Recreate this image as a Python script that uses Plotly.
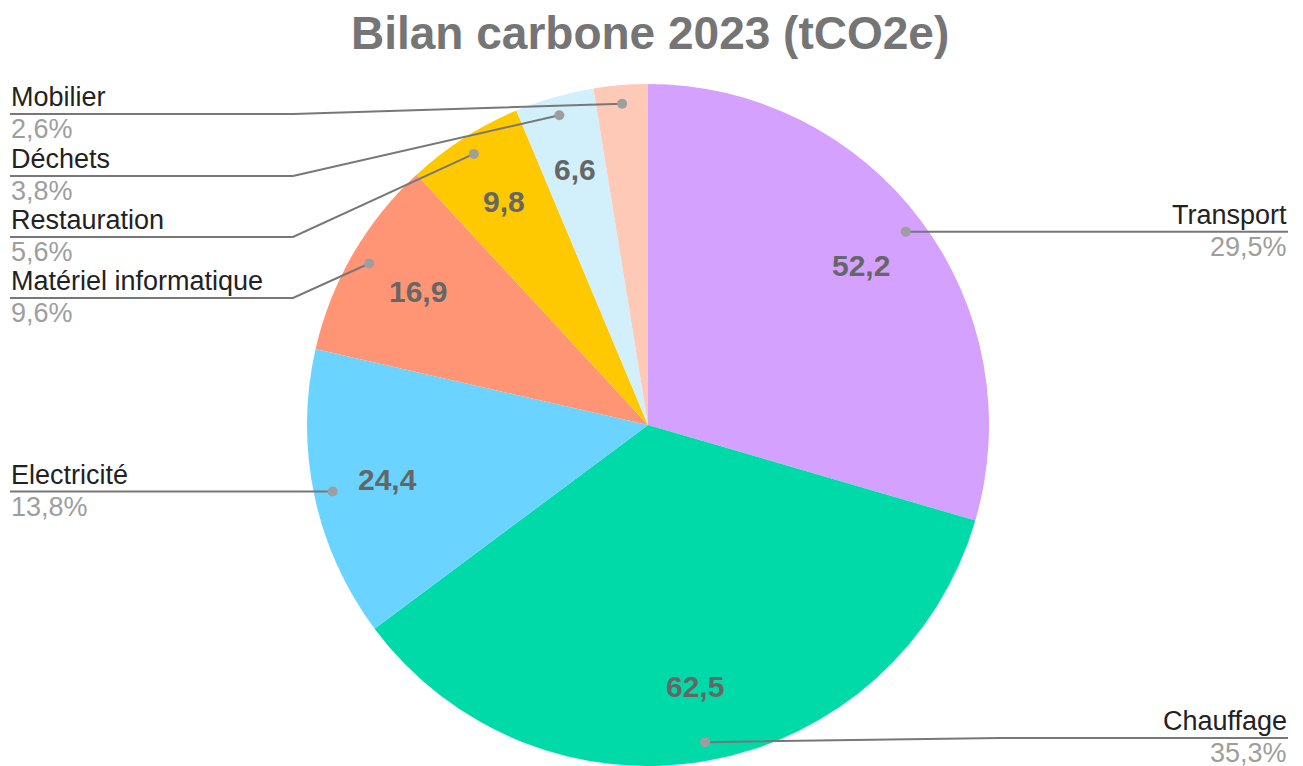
import math
import plotly.graph_objects as go

# ---- data ----
categories = ["Transport", "Chauffage", "Electricité", "Matériel informatique",
              "Restauration", "Déchets", "Mobilier"]
values = [52.24, 62.46, 24.36, 16.92, 9.83, 6.64, 4.53]
colors = ["#D4A1FE", "#00DAA9", "#6AD3FF", "#FF9575", "#FFC902", "#D2F0FC", "#FFC9B8"]
show_value = [True, True, True, True, True, True, False]
title_text = "Bilan carbone 2023 (tCO2e)"

# ---- layout constants (pixels) ----
W, H = 1303, 766
CX, R = 648, 341
TOP = 84
CY = TOP + R
label_side = ["right", "right", "left", "left", "left", "left", "left"]
label_line_y = [None, 738, None, 298, 237, 176, 114]  # None -> same as dot
LEFT_X, LEFT_KINK = 10, 293
RIGHT_X, RIGHT_KINK = 1288, 1000
FONT = "Arial, Liberation Sans, sans-serif"


def px(x):
    return x / W


def py(y):
    return 1 - y / H


def fmt(v, d=1):
    return f"{v:.{d}f}".replace(".", ",")


total = sum(values)
fig = go.Figure()
fig.add_trace(go.Pie(
    labels=categories, values=values, sort=False, direction="clockwise",
    rotation=0, marker=dict(colors=colors, line=dict(width=0)),
    textinfo="none", hoverinfo="label+value+percent", showlegend=False,
    domain=dict(x=[px(CX - R), px(CX + R)], y=[max(0, py(TOP + 2 * R)), py(TOP)]),
))

shapes, annotations = [], []
cum = 0.0
for i, (cat, v) in enumerate(zip(categories, values)):
    mid = (cum + v / 2) / total * 2 * math.pi
    cum += v
    sx, sy = math.sin(mid), -math.cos(mid)
    if show_value[i]:
        annotations.append(dict(
            x=px(CX + 0.78 * R * sx), y=py(CY + 0.78 * R * sy), xref="paper", yref="paper",
            text=f"<b>{fmt(v)}</b>", showarrow=False, xanchor="center", yanchor="middle",
            font=dict(family=FONT, size=30, color="#666666")))
    dx, dy = CX + 0.945 * R * sx, CY + 0.945 * R * sy
    ly = label_line_y[i] if label_line_y[i] is not None else dy
    if label_side[i] == "left":
        path = f"M {px(LEFT_X)},{py(ly)} L {px(LEFT_KINK)},{py(ly)} L {px(dx)},{py(dy)}"
        tx, anchor = LEFT_X, "left"
    else:
        path = f"M {px(RIGHT_X)},{py(ly)} L {px(RIGHT_KINK)},{py(ly)} L {px(dx)},{py(dy)}"
        tx, anchor = RIGHT_X, "right"
    shapes.append(dict(type="path", path=path, xref="paper", yref="paper", layer="above",
                       line=dict(color="#777777", width=2)))
    rr = 5
    shapes.append(dict(type="circle", xref="paper", yref="paper", layer="above",
                       x0=px(dx - rr), x1=px(dx + rr), y0=py(dy + rr), y1=py(dy - rr),
                       fillcolor="#9E9E9E", line=dict(width=0)))
    annotations.append(dict(
        x=px(tx), y=py(ly - 1), xref="paper", yref="paper", text=cat, showarrow=False,
        xanchor=anchor, yanchor="bottom", borderpad=0,
        font=dict(family=FONT, size=27, color="#222222")))
    annotations.append(dict(
        x=px(tx), y=py(ly - 1), xref="paper", yref="paper",
        text=fmt(v / total * 100) + "%", showarrow=False,
        xanchor=anchor, yanchor="top", borderpad=0,
        font=dict(family=FONT, size=27, color="#9E9E9E")))

annotations.append(dict(
    x=px(650), y=py(33), xref="paper", yref="paper", text=f"<b>{title_text}</b>",
    showarrow=False, xanchor="center", yanchor="middle",
    font=dict(family=FONT, size=46, color="#757575")))

fig.update_layout(
    width=W, height=H, margin=dict(l=0, r=0, t=0, b=0),
    paper_bgcolor="white", plot_bgcolor="white",
    shapes=shapes, annotations=annotations,
)
fig.write_html("out.html", config={"displayModeBar": False})

with open("out.html", encoding="utf-8") as fh:
    html = fh.read()
html = html.replace("<head>", "<head><style>html,body{margin:0;padding:0;overflow:hidden;}</style>", 1)
with open("out.html", "w", encoding="utf-8") as fh:
    fh.write(html)
